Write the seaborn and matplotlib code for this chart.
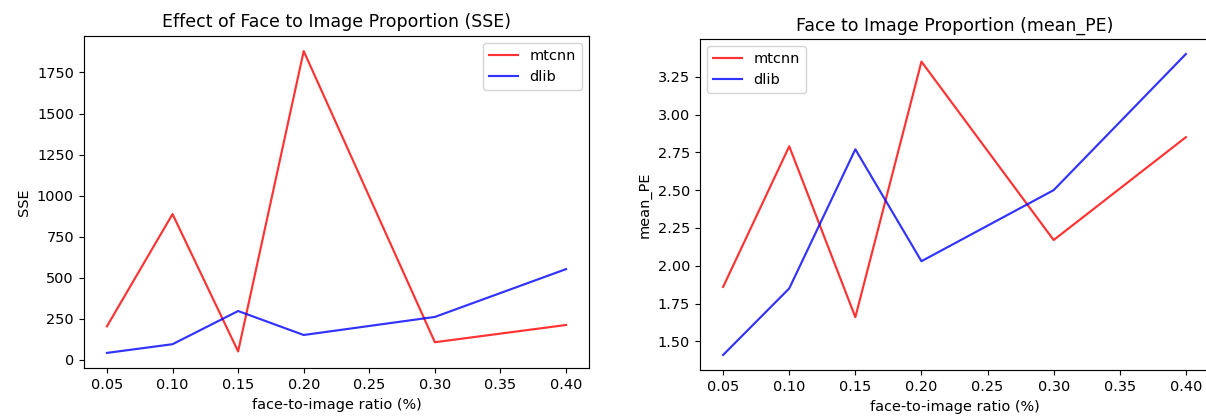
import numpy as np
import pandas as pd
import matplotlib
matplotlib.use("Agg")
import matplotlib.pyplot as plt
import seaborn as sns

ratios = [0.05, 0.10, 0.15, 0.20, 0.30, 0.40]
sse_mtcnn = [205, 888, 52, 1880, 108, 213]
sse_dlib = [43, 96, 298, 152, 262, 553]
pe_mtcnn = [1.86, 2.79, 1.66, 3.35, 2.17, 2.85]
pe_dlib = [1.41, 1.85, 2.77, 2.03, 2.50, 3.40]
methods = ["mtcnn", "dlib"]
colors = {"mtcnn": "red", "dlib": "blue"}

def long_df(a, b):
    return pd.DataFrame({
        "ratio": ratios * 2,
        "value": list(a) + list(b),
        "method": [methods[0]] * len(ratios) + [methods[1]] * len(ratios),
    })

W, H = 1206, 417
DPI = 104
fig = plt.figure(figsize=(W / DPI, H / DPI), dpi=DPI)
ax1 = fig.add_axes([84 / W, (H - 368) / H, (589 - 84) / W, (368 - 36) / H])
ax2 = fig.add_axes([700 / W, (H - 370) / H, (1209 - 700) / W, (370 - 39) / H])

sns.lineplot(data=long_df(sse_mtcnn, sse_dlib), x="ratio", y="value", hue="method",
             palette=colors, alpha=0.8, linewidth=1.5, ax=ax1, sort=False)
ax1.set_title("Effect of Face to Image Proportion (SSE)", fontsize=12)
ax1.set_xlabel("face-to-image ratio (%)")
ax1.set_ylabel("SSE")
ax1.legend(loc="upper right")

sns.lineplot(data=long_df(pe_mtcnn, pe_dlib), x="ratio", y="value", hue="method",
             palette=colors, alpha=0.8, linewidth=1.5, ax=ax2, sort=False)
ax2.set_title("Face to Image Proportion (mean_PE)", fontsize=12)
ax2.set_xlabel("face-to-image ratio (%)")
ax2.set_ylabel("mean_PE")
ax2.legend(loc="upper left")

for ax in (ax1, ax2):
    ax.set_xticks([0.05, 0.10, 0.15, 0.20, 0.25, 0.30, 0.35, 0.40])

fig.savefig("out.png", dpi=DPI)
